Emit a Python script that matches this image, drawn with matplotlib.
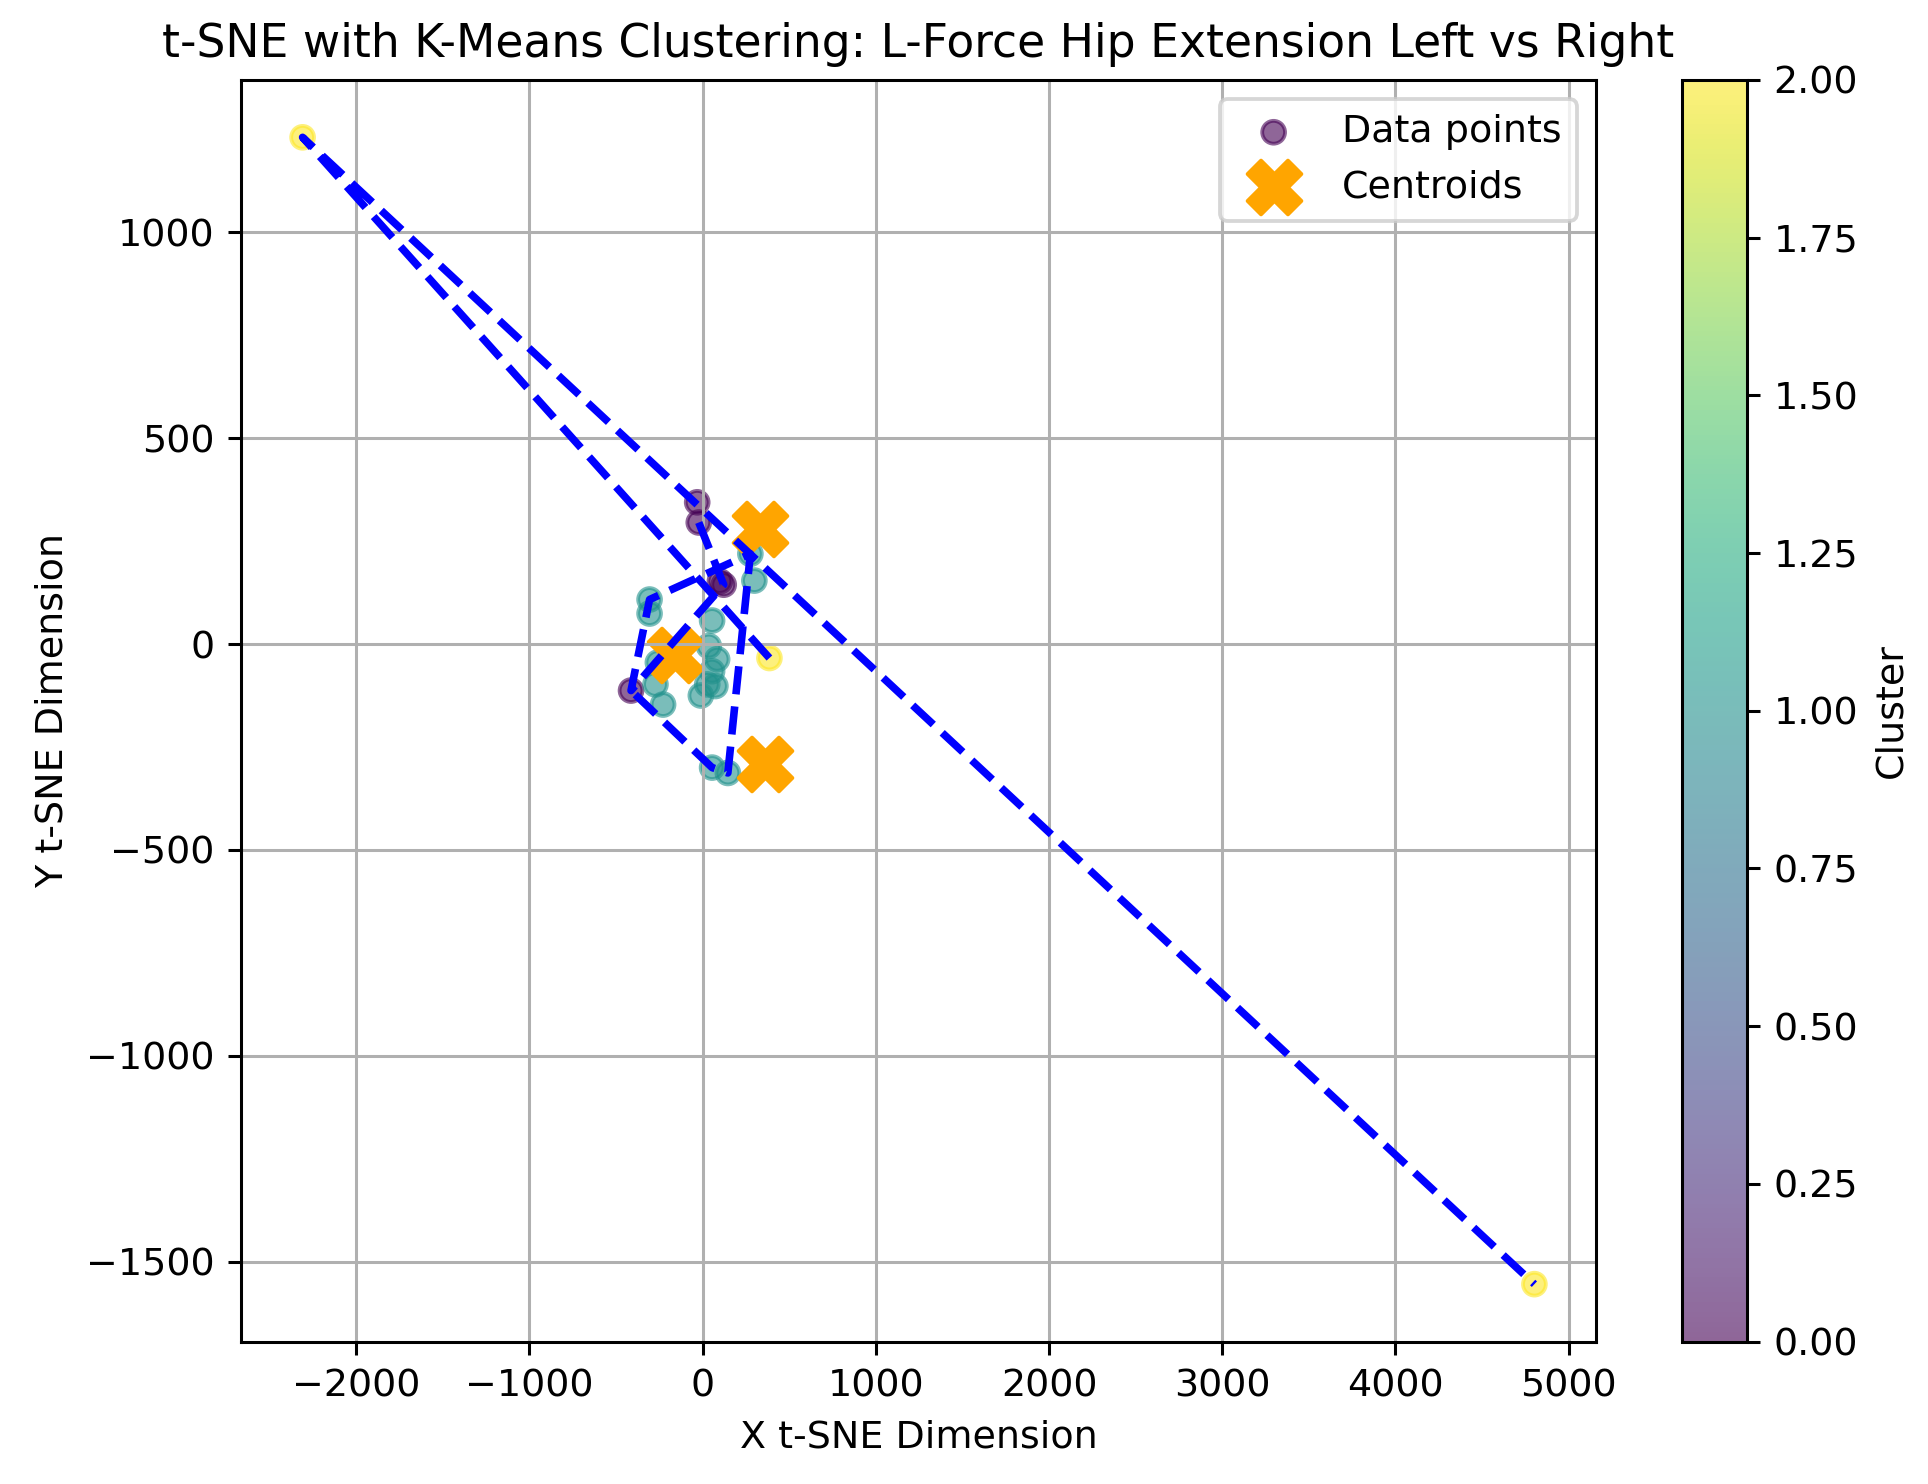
import numpy as np
import matplotlib
matplotlib.use("Agg")
import matplotlib.pyplot as plt

# ---- data (t-SNE coordinates) ----
x_tsne = [-31, -22, 122, 100, -413,
          276, 299, -306, -306, 55,
          36, 84, 55, 27, 74, -10,
          -258, -272, -228, 55, 146,
          -2309, 386, 4802]
y_tsne = [344, 295, 144, 152, -113,
          219, 154, 108, 74, 57,
          -5, -37, -66, -98, -102, -125,
          -45, -98, -147, -300, -313,
          1230, -34, -1554]
cluster = [0, 0, 0, 0, 0,
           1, 1, 1, 1, 1,
           1, 1, 1, 1, 1, 1,
           1, 1, 1, 1, 1,
           2, 2, 2]

centroid_x = [334, -162, 363]
centroid_y = [279, -26, -291]

# order in which points are joined by the dashed line
line_order_a = [22, 21, 23]
line_order_b = [1, 2, 4, 7, 5, 20, 19, 4]

title = "t-SNE with K-Means Clustering: L-Force Hip Extension Left vs Right"

# ---- figure ----
DPI = 274
fig = plt.figure(figsize=(1928 / DPI, 1484 / DPI), dpi=DPI)
ax = fig.add_axes([241 / 1928, 1 - 1341.5 / 1484, (1596 - 241) / 1928, (1341.5 - 80) / 1484])
cax = fig.add_axes([1682 / 1928, 1 - 1341.5 / 1484, (1747 - 1682) / 1928, (1341.5 - 80) / 1484])

xs = np.array(x_tsne, dtype=float)
ys = np.array(y_tsne, dtype=float)

sc = ax.scatter(xs, ys, c=cluster, cmap="viridis", alpha=0.6, label="Data points")
ax.scatter(centroid_x, centroid_y, c="orange", marker="X", s=200, label="Centroids")

for order in (line_order_a, line_order_b):
    ax.plot(xs[order], ys[order], "b--", linewidth=2)

ax.set_title(title)
ax.set_xlabel("X t-SNE Dimension")
ax.set_ylabel("Y t-SNE Dimension")
ax.grid(True)
ax.legend(loc="upper right")

cb = fig.colorbar(sc, cax=cax)
cb.set_label("Cluster")

fig.savefig("out.png", dpi=DPI)
